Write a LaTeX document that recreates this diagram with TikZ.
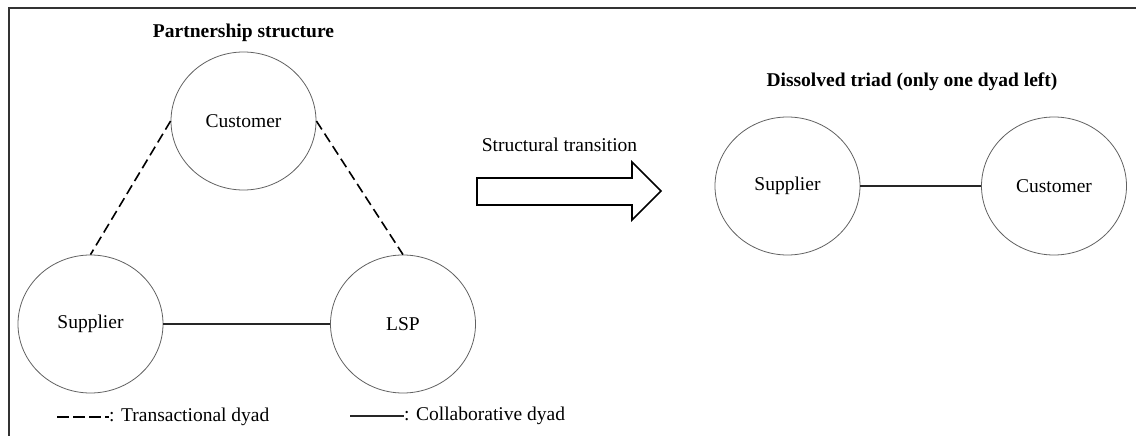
\documentclass[tikz,border=0pt]{standalone}
\usepackage{fontspec}
\setmainfont{Liberation Serif}
\usetikzlibrary{shapes.geometric}
\begin{document}
\begin{tikzpicture}[x=1pt,y=-1pt,
  every node/.style={font=\fontsize{19.5}{23}\selectfont},
  party/.style={ellipse,draw=black!62,line width=0.8pt,minimum width=145pt,minimum height=138pt,inner sep=0pt},
  heading/.style={font=\fontsize{19.5}{23}\selectfont\bfseries},
  transactional/.style={draw=black,line width=1.6pt,dash pattern=on 10pt off 5pt},
  collaborative/.style={draw=black!85,line width=1.5pt},
  frameline/.style={draw=black!80,line width=1.5pt}]
\useasboundingbox (0,0) rectangle (1136,436);

% frame on the left and top edges
\draw[frameline] (9,436) -- (9,8) -- (1136,8);

% partnership structure (triad)
\node[heading] (t1) at (243.5,33) {Partnership structure};
\node[party] (cust) at (243.5,121) {Customer};
\node[party] (supp) at (90.5,324) {Supplier};
\node[party] (lsp)  at (403,324) {LSP};
\draw[transactional] (cust.west) -- (supp.north);
\draw[transactional] (cust.east) -- (lsp.north);
\draw[collaborative] (supp.east) -- (lsp.west);

% transition arrow
\node (tr) at (559.5,145) {Structural transition};
\draw[line width=1.6pt,line join=miter]
  (477,178) -- (632,178) -- (632,162) -- (661,191) -- (632,220) -- (632,205) -- (477,205) -- cycle;

% dissolved triad (one dyad)
\node[heading] (t2) at (912,82) {Dissolved triad (only one dyad left)};
\node[party] (rsupp) at (787.5,186) {Supplier};
\node[party] (rcust) at (1054,186) {Customer};
\draw[collaborative] (rsupp.east) -- (rcust.west);

% legend
\coordinate (la) at (57,417);
\coordinate (lb) at (109,417);
\draw[transactional,dash pattern=on 11.5pt off 4.5pt] (la) -- (lb);
\node[anchor=west,inner sep=0pt] (lt) at (lb) {: Transactional dyad};
\coordinate (lc) at (350,416);
\coordinate (ld) at (404,416);
\draw[collaborative] (lc) -- (ld);
\node[anchor=west,inner sep=0pt] (lcol) at (ld) {: Collaborative dyad};
\end{tikzpicture}
\end{document}
